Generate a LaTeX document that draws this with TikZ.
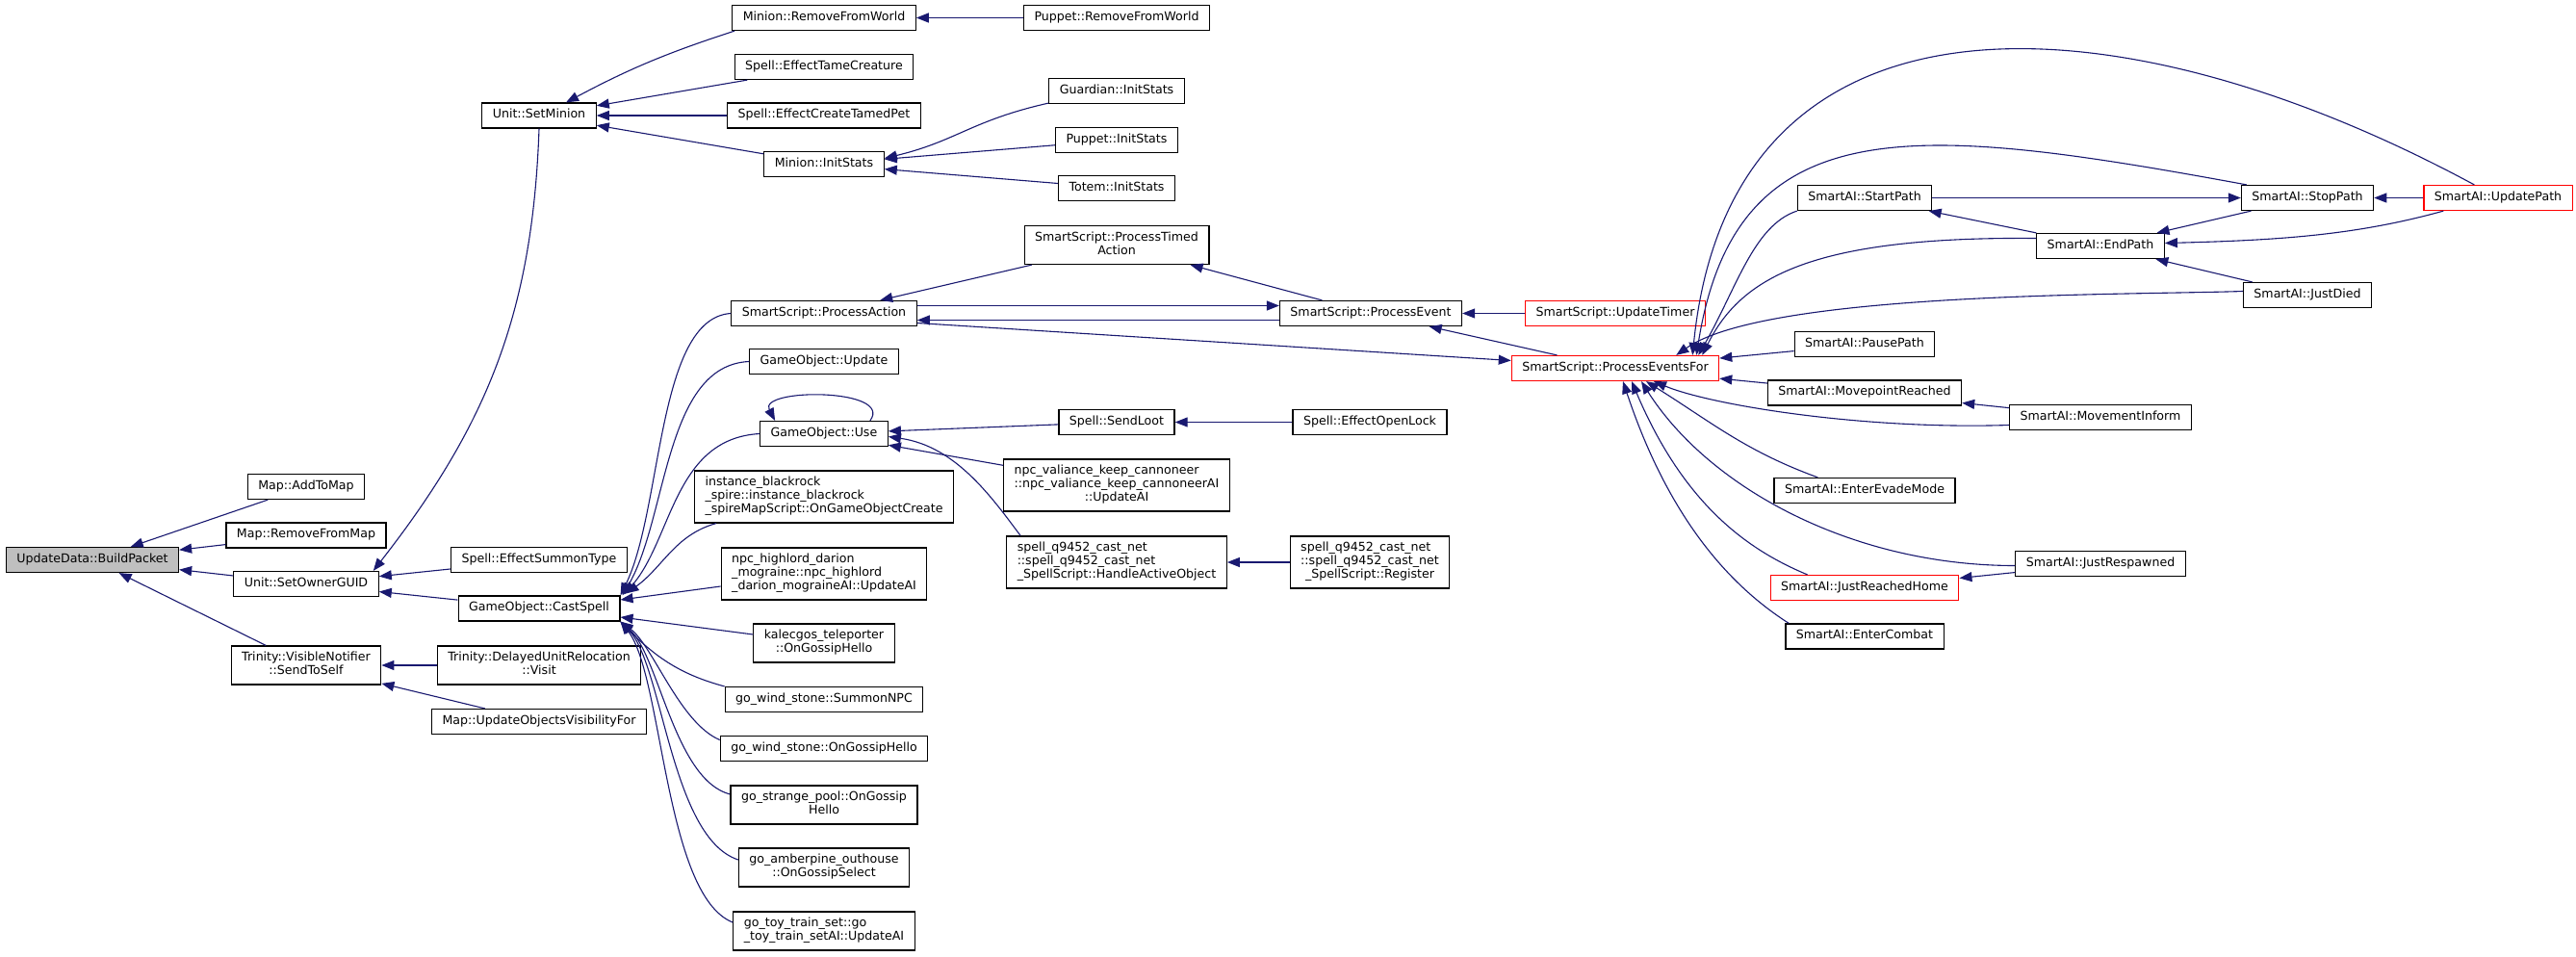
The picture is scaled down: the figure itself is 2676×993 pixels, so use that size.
\documentclass[tikz,border=0pt]{standalone}
\usepackage{fontspec}
\setmainfont{DejaVu Sans}
\usepackage{xcolor}
\usetikzlibrary{arrows.meta, calc}
\definecolor{edgeblue}{HTML}{191970}
\definecolor{rootgray}{HTML}{BFBFBF}
\definecolor{hotred}{HTML}{FF0000}
\newcommand{\twol}[2]{\begin{tabular}{@{}l@{}}#1\\\multicolumn{1}{@{}c@{}}{#2}\end{tabular}}
\newcommand{\threel}[3]{\begin{tabular}{@{}l@{}}#1\\#2\\\multicolumn{1}{@{}c@{}}{#3}\end{tabular}}

\begin{document}
\begin{tikzpicture}[
  x=1pt, y=-1pt,
  fn/.style={draw=black, line width=1.2pt, fill=white, font=\fontsize{12.6}{14}\selectfont, inner xsep=11pt, inner ysep=6pt},
  root/.style={fn, fill=rootgray},
  hot/.style={fn, draw=hotred},
  call/.style={draw=edgeblue, line width=1.1pt, {Triangle[length=13pt,width=10pt]}-},
]
\useasboundingbox (0,0) rectangle (2676,993);
\fill[white] (0,0) rectangle (2676,993);

% Root and direct callers
\node[root] (bp) at (96,581.5) {\strut UpdateData::BuildPacket};
\foreach \nm/\y/\txt in {addmap/505.5/Map::AddToMap, rmmap/556/Map::RemoveFromMap, sog/606.5/Unit::SetOwnerGUID} {
  \node[fn] (\nm) at (318,\y) {\strut\txt};
}
\node[fn] (sts) at (318,691) {\twol{Trinity::VisibleNotifier}{::SendToSelf}};

% Third column
\foreach \nm/\y/\txt in {sm/120/Unit::SetMinion, est/581.5/Spell::EffectSummonType, cs/632/GameObject::CastSpell, uovf/749.5/Map::UpdateObjectsVisibilityFor} {
  \node[fn] (\nm) at (560,\y) {\strut\txt};
}
\node[fn] (durv) at (560,691) {\twol{Trinity::DelayedUnitRelocation}{::Visit}};

% Fourth column
\foreach \nm/\y/\txt in {mrfw/18.5/Minion::RemoveFromWorld, tame/69.5/Spell::EffectTameCreature, ctp/120/Spell::EffectCreateTamedPet, mis/170.5/Minion::InitStats, pa/325.5/SmartScript::ProcessAction, gou/375.5/GameObject::Update, use/450.5/GameObject::Use, wsn/726.5/go\_wind\_stone::SummonNPC, wsg/777.5/go\_wind\_stone::OnGossipHello} {
  \node[fn] (\nm) at (856,\y) {\strut\txt};
}
\node[fn] (ibs) at (856,516) {\threel{instance\_blackrock}{\_spire::instance\_blackrock}{\_spireMapScript::OnGameObjectCreate}};
\node[fn] (npch) at (856,596) {\threel{npc\_highlord\_darion}{\_mograine::npc\_highlord}{\_darion\_mograineAI::UpdateAI}};
\node[fn] (kal) at (856,668) {\twol{kalecgos\_teleporter}{::OnGossipHello}};
\node[fn] (spl) at (856,836) {\twol{go\_strange\_pool::OnGossip}{Hello}};
\node[fn] (amb) at (856,901) {\twol{go\_amberpine\_outhouse}{::OnGossipSelect}};
\node[fn] (toy) at (856,967) {\twol{go\_toy\_train\_set::go}{\_toy\_train\_setAI::UpdateAI}};

% Fifth column
\foreach \nm/\y/\txt in {prfw/18.5/Puppet::RemoveFromWorld, gis/94.5/Guardian::InitStats, pis/145.5/Puppet::InitStats, tis/195.5/Totem::InitStats, sl/438.5/Spell::SendLoot} {
  \node[fn] (\nm) at (1160,\y) {\strut\txt};
}
\node[fn] (pta) at (1160,254.5) {\twol{SmartScript::ProcessTimed}{Action}};
\node[fn] (npcv) at (1160,504) {\threel{npc\_valiance\_keep\_cannoneer}{::npc\_valiance\_keep\_cannoneerAI}{::UpdateAI}};
\node[fn] (hao) at (1160,584) {\threel{spell\_q9452\_cast\_net}{::spell\_q9452\_cast\_net}{\_SpellScript::HandleActiveObject}};

% Sixth and seventh columns
\node[fn] (pe) at (1424,325.5) {\strut SmartScript::ProcessEvent};
\node[fn] (eol) at (1423,438.5) {\strut Spell::EffectOpenLock};
\node[fn] (reg) at (1423,584) {\threel{spell\_q9452\_cast\_net}{::spell\_q9452\_cast\_net}{\_SpellScript::Register}};
\node[hot] (ut) at (1678,325.5) {\strut SmartScript::UpdateTimer};
\node[hot] (pef) at (1678,382.5) {\strut SmartScript::ProcessEventsFor};

% SmartAI
\foreach \nm/\y/\txt in {start/205.5/SmartAI::StartPath, pause/357.5/SmartAI::PausePath, mpr/408/SmartAI::MovepointReached, evade/509.5/SmartAI::EnterEvadeMode, combat/661/SmartAI::EnterCombat} {
  \node[fn] (\nm) at (1937,\y) {\strut\txt};
}
\node[hot] (home) at (1937,610.5) {\strut SmartAI::JustReachedHome};
\foreach \nm/\y/\txt in {endp/255.5/SmartAI::EndPath, minf/433.5/SmartAI::MovementInform, resp/585.5/SmartAI::JustRespawned} {
  \node[fn] (\nm) at (2182,\y) {\strut\txt};
}
\node[fn] (stop) at (2397,205.5) {\strut SmartAI::StopPath};
\node[fn] (died) at (2397,306.5) {\strut SmartAI::JustDied};
\node[hot] (upd) at (2595,205.5) {\strut SmartAI::UpdatePath};

% Edges into BuildPacket and SetOwnerGUID
\foreach \nm in {addmap, rmmap, sog, sts} \draw[call] (bp) -- (\nm);
\draw[call] ($(sog.north east)+(-6,0)$) to[out=52, in=-92] (sm.south);
\foreach \nm in {est, cs} \draw[call] (sog) -- (\nm);
\foreach \nm in {durv, uovf} \draw[call] (sts) -- (\nm);

% SetMinion and InitStats
\draw[call] ($(sm.north)+(28,0)$) to[out=28, in=198] ($(mrfw.south west)+(3,0)$);
\foreach \nm in {tame, ctp, mis} \draw[call] (sm) -- (\nm);
\draw[call] (mrfw) -- (prfw);
\draw[call] ($(mis.east)+(0,-6)$) .. controls +(75,-18) and +(-80,18) .. ($(gis.south west)+(0,-1)$);
\foreach \nm in {pis, tis} \draw[call] (mis) -- (\nm);

% CastSpell callers
\draw[call] (cs.north east) .. controls +(44,-90) and +(-77,5) .. (pa.west);
\draw[call] ($(cs.north east)+(2,0)$) .. controls +(47,-80) and +(-88,4) .. (gou.west);
\draw[call] ($(cs.north east)+(4,-1)$) .. controls +(50,-58) and +(-89,5) .. (use.west);
\draw[call] ($(cs.north east)+(6,-2)$) .. controls +(38,-27) and +(-43,12) .. ($(ibs.south west)+(23,0)$);
\draw[call] ($(cs.east)+(0,-9)$) -- ($(npch.west)+(0,13)$);
\draw[call] ($(cs.east)+(0,9)$) -- ($(kal.west)+(0,-9)$);
\draw[call] (cs.south east) to[out=-45, in=165] (wsn.north west);
\draw[call] (cs.south east) .. controls +(34,25) and +(-42,-18) .. ($(wsg.west)+(0,-9)$);
\draw[call] (cs.south east) .. controls +(40,35) and +(-58,-15) .. ($(spl.west)+(0,-11)$);
\draw[call] (cs.south east) .. controls +(44,45) and +(-70,-23) .. ($(amb.west)+(0,-8)$);
\draw[call] (cs.south east) .. controls +(44,55) and +(-71,-28) .. ($(toy.west)+(0,-9)$);

% GameObject::Use and spell scripts
\draw[call] ($(use.north west)+(16,0)$) .. controls +(-18,-34) and +(25,-34) .. ($(use.north east)+(-19,0)$);
\draw[call] (use) -- (sl);
\draw[call] (use) -- (npcv);
\draw[call] ($(use.east)+(0,3)$) .. controls +(70,10) and +(-30,-40) .. ($(hao.north west)+(15,0)$);
\draw[call] (sl) -- (eol);
\draw[call] (hao) -- (reg);

% SmartScript
\draw[call] (pa) -- (pta);
\draw[call] ($(pa.east)+(0,7)$) -- ($(pe.west)+(0,7)$);
\draw[call] ($(pe.west)+(0,-8)$) -- ($(pa.east)+(0,-8)$);
\draw[call] ($(pef.west)+(0,-8)$) -- ($(pa.east)+(0,10)$);
\draw[call] (pta) -- (pe);
\draw[call] (pe) -- (ut);
\draw[call] (pe) -- (pef);

% ProcessEventsFor callers
\draw[call] ($(pef.north east)+(-22,0)$) .. controls +(40,-70) and +(-45,15) .. (start.south west);
\draw[call] ($(pef.north east)+(-24,0)$) .. controls +(41,-260) and +(-343,-63) .. ($(stop.north west)+(6,0)$);
\draw[call] ($(pef.north east)+(-28,0)$) .. controls +(40,-400) and +(-370,-200) .. ($(upd.north west)+(53,0)$);
\draw[call] ($(pef.north east)+(-18,0)$) .. controls +(40,-80) and +(-235,-2) .. ($(endp.west)+(0,-8)$);
\draw[call] ($(pef.north east)+(-45,0)$) to[out=35, in=182, looseness=0.5] ($(died.west)+(0,-4)$);
\draw[call] (pef) -- (pause);
\draw[call] (pef) -- (mpr);
\draw[call] ($(pef.south)+(40,0)$) .. controls +(60,25) and +(-150,5) .. ($(minf.west)+(0,8)$);
\draw[call] ($(pef.south)+(32,0)$) to[out=-32, in=160] ($(evade.north west)+(46,0)$);
\draw[call] ($(pef.south)+(27,0)$) .. controls +(70,110) and +(-170,0) .. ($(resp.west)+(0,2)$);
\draw[call] ($(pef.south)+(17,0)$) .. controls +(55,130) and +(-60,-25) .. ($(home.north west)+(39,0)$);
\draw[call] ($(pef.south)+(8,0)$) .. controls +(50,150) and +(-55,-35) .. ($(combat.north west)+(4,0)$);

% SmartAI paths
\draw[call] (mpr) -- (minf);
\draw[call] (home) -- (resp);
\draw[call] (start) -- (endp);
\draw[call] (stop) -- (start);
\draw[call] (endp) -- (stop);
\draw[call] (endp) -- (died);
\draw[call] (stop) -- (upd);
\draw[call] ($(endp.east)+(0,-3)$) .. controls +(120,-3) and +(-90,25) .. ($(upd.south west)+(21,0)$);
\end{tikzpicture}
\end{document}
